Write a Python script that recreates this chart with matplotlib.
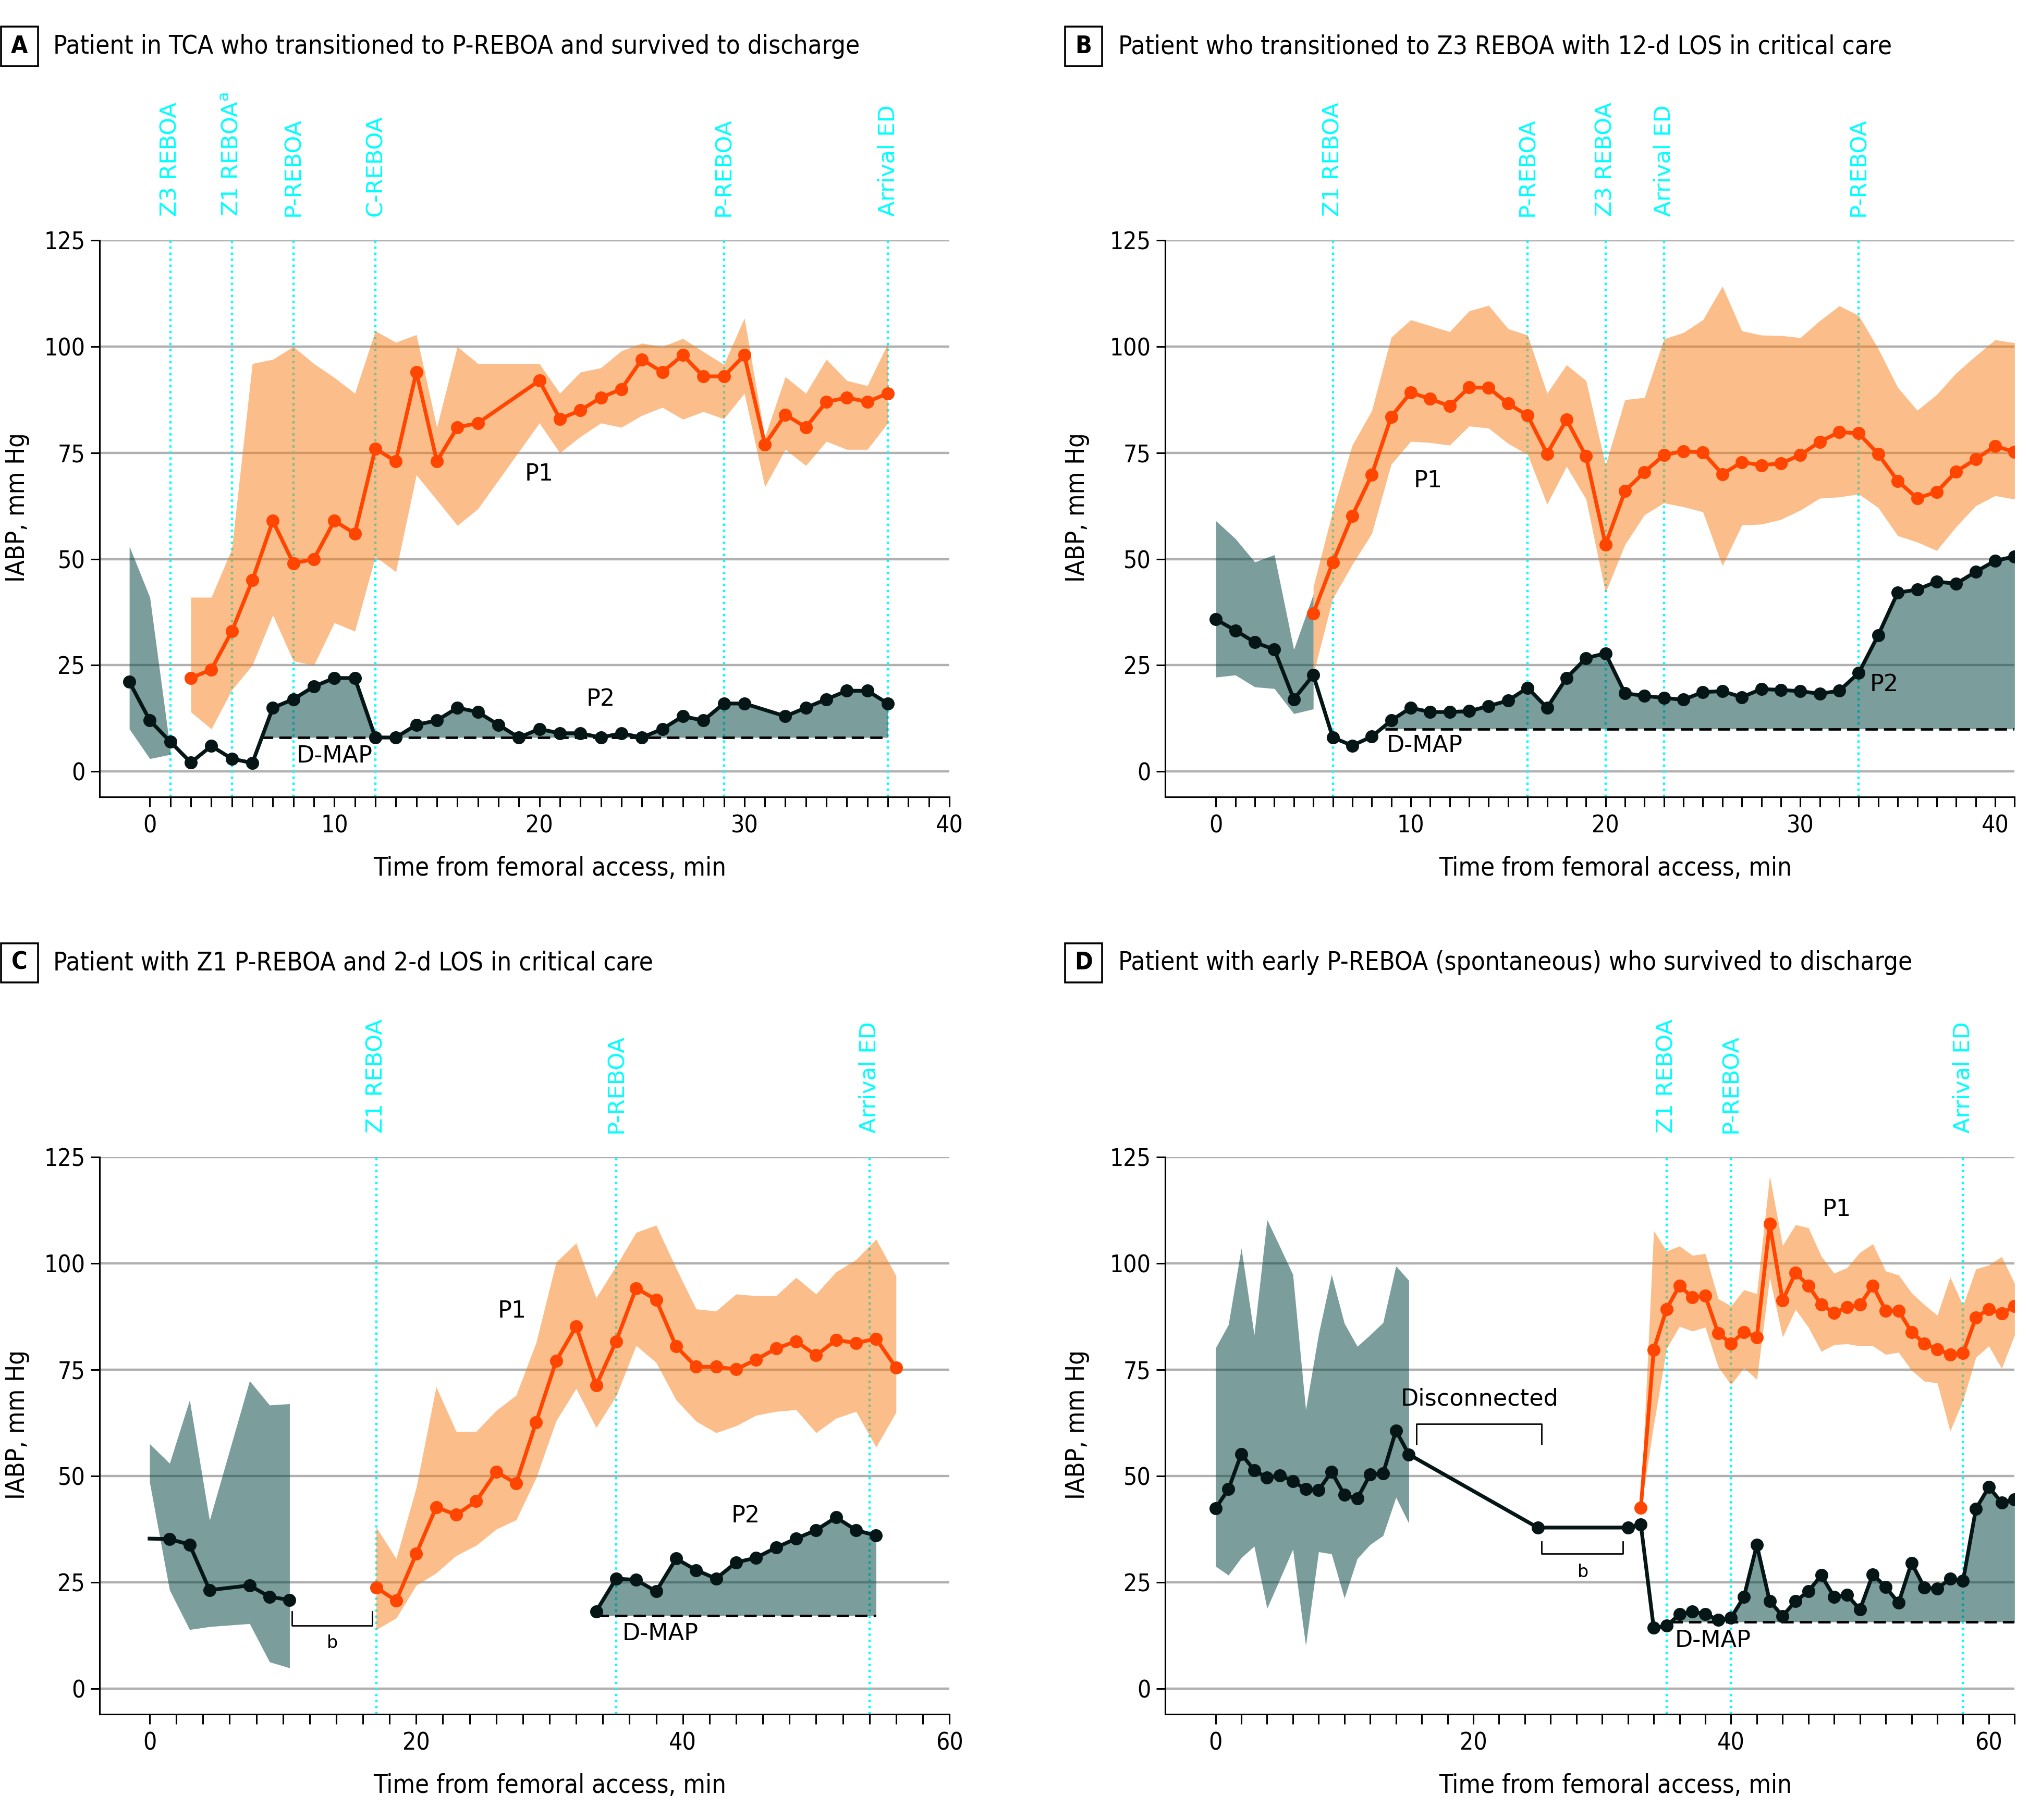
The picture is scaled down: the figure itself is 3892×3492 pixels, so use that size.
import os
import matplotlib
matplotlib.use('Agg')
import matplotlib.pyplot as plt
from matplotlib import font_manager as fm
from matplotlib.patches import Rectangle
import numpy as np

PLAIN = ['DejaVu Sans']

ORANGE = '#ff4500'
BAND_OR = '#f87d14'
TEAL = '#034644'
DARK = '#061616'
CYAN = '#00ffff'
GRID = '#b0b0b0'

# ---------------- Panel A ----------------
a_t2 = [0, 1, 2, 3, 4, 5, 6, 7, 8, 9, 10, 11, 12, 13, 14, 15, 16, 17, 18, 19, 20,
        21, 22, 23, 24, 25, 26, 27, 28, 29, 30, 32, 33, 34, 35, 36, 37]
a_p2 = [21.1, 12, 7, 2.1, 6, 3, 2, 15, 17, 20, 22, 22, 8, 8, 11, 12, 15, 14, 11, 8, 10,
        9, 9, 8, 9, 8, 10, 13, 12, 16, 16, 13, 15, 17, 19, 19, 16]
a_band2_t = [0, 1, 2]
a_band2_hi = [53, 41, 5]
a_band2_lo = [10, 3, 4]
a_t1 = [3, 4, 5, 6, 7, 8, 9, 10, 11, 12, 13, 14, 15, 16, 17, 20, 21, 22, 23, 24, 25,
        26, 27, 28, 29, 30, 31, 32, 33, 34, 35, 36, 37]
a_p1 = [22, 24, 33, 45, 59, 49, 50, 59, 56, 76, 73, 94, 73, 81, 82, 92, 83, 85, 88, 90, 97,
        94, 98, 93, 93, 98, 77, 84, 81, 87, 88, 87, 89]
a_p1_hi = [41, 41, 52.4, 96, 97, 100, 96, 92.7, 89, 103.7, 101, 102.8, 81, 100, 96, 96, 89,
           94, 95, 99, 100.8, 100, 101.9, 98.8, 95.8, 106.7, 78.7, 92.9, 89, 97, 92, 90.8, 100.7]
a_p1_lo = [14, 10, 19.2, 25, 36.8, 26, 25, 35, 33, 50.6, 47, 69.8, 63.9, 57.9, 61.8, 82, 75,
           78.8, 82, 81, 83.8, 85.7, 82.9, 84.7, 83, 89, 67, 75.8, 72, 77.7, 75.8, 75.8, 82]
a_dmap = (6.4, 37, 8)
a_events = [2, 5, 8, 12, 29, 37]
a_event_names = ['Z3 REBOA', r'Z1 REBOA$^\mathrm{a}$', 'P-REBOA', 'C-REBOA', 'P-REBOA', 'Arrival ED']

# ---------------- Panel B ----------------
b_t2 = list(range(0, 42))
b_p2 = [35.8, 33.2, 30.4, 28.7, 17, 22.7, 8, 6.1, 8.2, 12,
        15, 14, 14, 14.2, 15.4, 16.7, 19.7, 15, 22, 26.7,
        27.8, 18.4, 17.8, 17.3, 16.9, 18.7, 18.9, 17.5, 19.4, 19.2,
        18.9, 18.3, 19, 23.2, 32.1, 42.1, 42.8, 44.7, 44.2, 47,
        49.6, 50.6]
b_band2_t = [0, 1, 2, 3, 4, 5]
b_band2_hi = [59, 54.8, 49.3, 51, 28.7, 41.7]
b_band2_lo = [22.2, 22.7, 19.9, 19.5, 13.6, 14.7]
b_t1 = list(range(5, 42))
b_p1 = [37.2, 49.2, 60.2, 69.8, 83.5, 89.2, 87.7, 86, 90.4, 90.3, 86.6, 83.8, 74.8, 82.8,
        74.2, 53.4, 66, 70.5, 74.5, 75.4, 75.1, 70, 72.8, 72.1, 72.5, 74.5, 77.6, 79.9, 79.6,
        74.7, 68.4, 64.3, 65.8, 70.6, 73.5, 76.6, 75.2]
b_p1_hi = [43.5, 61.3, 76.8, 84.9, 102.2, 106.3, 104.9, 103.5, 108.4, 109.7, 104.2, 102.7,
           89, 95.7, 92, 72.1, 87.5, 88, 101.8, 103.3, 106.3, 114.2, 103.7, 102.7, 102.6,
           102.1, 106.1, 109.6, 107.3, 99.5, 90.4, 85, 88.7, 93.8, 97.8, 101.6, 100.9]
b_p1_lo = [22.9, 40.7, 48.7, 56, 72.3, 77.7, 77.4, 76.8, 81.3, 80.8, 77.2, 74.6, 62.9, 71.8,
           64.1, 42.1, 53.4, 60.4, 63.2, 62.3, 61.1, 48.4, 58, 58.2, 59.3, 61.5, 64.3, 64.6,
           65.3, 62.1, 55.5, 54, 52, 57.6, 62.5, 64.9, 64.1]
b_dmap = (8.7, 41, 10)
b_events = [6, 16, 20, 23, 33]
b_event_names = ['Z1 REBOA', 'P-REBOA', 'Z3 REBOA', 'Arrival ED', 'P-REBOA']

# ---------------- Panel C ----------------
c_t0 = [0, 1.5, 3, 4.5, 7.5, 9, 10.5]
c_p0 = [35.3, 35.2, 33.9, 23.2, 24.3, 21.6, 20.9]
c_band0_hi = [57.6, 53, 67.9, 39.6, 72.4, 66.7, 67]
c_band0_lo = [48.6, 23.2, 13.9, 14.6, 15.3, 6.3, 4.9]
c_t1 = [17 + 1.5 * i for i in range(27)]
c_p1 = [23.8, 20.7, 31.7, 42.7, 40.9, 44.1, 51, 48.3, 62.7, 77.1, 85.2, 71.3, 81.7, 94.2,
        91.5, 80.5, 75.7, 75.7, 75.1, 77.4, 80, 81.7, 78.4, 82, 81.3, 82.3, 75.5]
c_p1_hi = [38, 30.6, 47.2, 71, 60.5, 60.5, 65.4, 69, 81.4, 100.3, 104.8, 91.9, 99.4, 107.3,
           109, 98.9, 89.3, 88.8, 92.8, 92.4, 92.4, 96.7, 92.8, 98, 100.9, 105.7, 97.1]
c_p1_lo = [13.9, 16.6, 24.3, 27.2, 31.3, 33.7, 37.5, 39.7, 49.6, 63, 70.6, 61.4, 68.8, 80.7,
           76.7, 67.9, 62.9, 60.2, 61.8, 64.3, 65.2, 65.6, 60.2, 63.6, 65.2, 56.8, 65]
c_t2 = [33.5 + 1.5 * i for i in range(15)]
c_p2 = [18.2, 25.9, 25.6, 22.9, 30.6, 27.9, 25.9, 29.7, 30.8, 33.2, 35.3, 37.3, 40.3, 37.3, 36]
c_dmap = (33.5, 54.5, 17.2)
c_events = [17, 35, 54]
c_event_names = ['Z1 REBOA', 'P-REBOA', 'Arrival ED']

# ---------------- Panel D ----------------
d_t2 = list(range(0, 16)) + [25, 32, 33] + list(range(34, 63))
d_p2 = [42.4, 46.9, 55.2, 51.4, 49.6, 50.2, 48.8, 46.9, 46.7, 51, 45.6, 44.7, 50.4, 50.6,
        60.7, 55.1,
        37.9, 37.9, 38.6,
        14.3, 14.8, 17.5, 18.1, 17.6, 16.2, 16.7, 21.6, 33.8, 20.6, 17.1, 20.6, 22.9, 26.7,
        21.6, 22.1, 18.6, 26.9, 23.9, 20.2, 29.6, 23.8, 23.5, 25.9, 25.4, 42.3, 47.4, 43.8, 44.5]
d_band2_t = list(range(0, 16))
d_band2_hi = [80.1, 85.6, 103.6, 83.2, 110.3, 103.9, 97.4, 65.6, 83.4, 97.4, 85.9, 80.5,
              83.2, 86.1, 99.4, 96]
d_band2_lo = [28.8, 26.7, 30.8, 33.5, 18.9, 25.8, 32.8, 10.1, 32.2, 31.7, 21.3, 30.6,
              33.9, 36, 45, 38.9]
d_t1 = list(range(33, 63))
d_p1 = [42.6, 79.7, 89.3, 94.8, 92, 92.4, 83.6, 81.2, 83.9, 82.6, 109.3, 91.3, 97.8, 94.8,
        90.3, 88.4, 89.7, 90.3, 94.8, 88.9, 88.9, 83.9, 81.2, 79.8, 78.6, 78.9, 87.3, 89.3,
        88.2, 90]
d_p1_hi = [43.3, 107.7, 102.9, 104.1, 101.9, 102.3, 91.7, 90, 93.8, 92.9, 120.6, 104.2,
           109.1, 108.4, 101.7, 97.7, 99, 102.6, 104.6, 98.2, 97.3, 93.1, 90.3, 87.8, 96.8,
           90.1, 98.7, 99.6, 101.6, 95.3]
d_p1_lo = [42.3, 62, 80, 85.2, 84.1, 85, 75.7, 71.5, 75.5, 72.7, 96.7, 82.7, 89.2, 85, 79.3,
           80.9, 81.1, 80.6, 80.6, 78.6, 79.1, 74.9, 72.3, 71.9, 60.6, 67.8, 77.9, 80.6, 75.3,
           83.2]
d_dmap = (35.3, 62, 15.7)
d_events = [35, 40, 58]
d_event_names = ['Z1 REBOA', 'P-REBOA', 'Arrival ED']

yticks = [0, 25, 50, 75, 100, 125]

titles = ['Patient in TCA who transitioned to P-REBOA and survived to discharge',
          'Patient who transitioned to Z3 REBOA with 12-d LOS in critical care',
          'Patient with Z1 P-REBOA and 2-d LOS in critical care',
          'Patient with early P-REBOA (spontaneous) who survived to discharge']
letters = ['A', 'B', 'C', 'D']


# pick a narrow sans for titles / axes if one is installed, else Liberation Sans
def find_narrow(bold=False):
    for f in fm.fontManager.ttflist:
        tag = (f.name + ' ' + os.path.basename(f.fname)).lower()
        if 'mono' in tag or 'serif' in tag or f.style != 'normal':
            continue
        if bold:
            if f.weight not in (700, 'bold'):
                continue
        elif f.weight not in (400, 'normal', 'regular', 'book'):
            continue
        if 'narrow' in tag or ('condensed' in tag and not any(
                w in tag for w in ('semi', 'extra', 'ultra'))):
            return fm.FontProperties(fname=f.fname)
    return fm.FontProperties(family=['Liberation Sans', 'DejaVu Sans'],
                             weight='bold' if bold else 'normal')


BASE = find_narrow()
BASE_BOLD = find_narrow(bold=True)


def cond(size, bold=False):
    p = (BASE_BOLD if bold else BASE).copy()
    p.set_size(size)
    return p


W, H = 3892, 3492
fig = plt.figure(figsize=(W / 200, H / 200), dpi=200)
renderer = fig.canvas.get_renderer()


def fit_size(text, target_px, size0=19):
    probe = fig.text(0, 0, text, fontproperties=cond(size0))
    w = probe.get_window_extent(renderer).width
    probe.remove()
    return size0 * target_px / w


TITLE_SIZE = fit_size(titles[0], 1546)
LABEL_SIZE = fit_size('Time from femoral access, min', 675)
TICK_SIZE = LABEL_SIZE * 0.95

axA = fig.add_axes([0.0491, 0.5621, 0.4188, 0.3058])
axB = fig.add_axes([0.5743, 0.5621, 0.4186, 0.3058])
axC = fig.add_axes([0.0491, 0.0581, 0.4188, 0.3061])
axD = fig.add_axes([0.5743, 0.0581, 0.4186, 0.3061])


def setup(ax, xlim, ticks, labelled, ylab_x):
    ax.set_xlim(*xlim)
    ax.set_ylim(-6, 125)
    for s in ['top', 'right']:
        ax.spines[s].set_visible(False)
    for s in ['left', 'bottom']:
        ax.spines[s].set_linewidth(1.1)
    ax.set_yticks(yticks)
    ax.set_yticklabels([str(v) for v in yticks])
    ax.set_xticks(ticks)
    ax.set_xticklabels([labelled.get(t, '') for t in ticks])
    ax.tick_params(axis='x', direction='out', length=7, width=1.1, pad=5)
    ax.tick_params(axis='y', direction='out', length=6, width=1.1, pad=4)
    for lab in ax.get_xticklabels() + ax.get_yticklabels():
        lab.set_fontproperties(cond(TICK_SIZE))
    ax.grid(axis='y', color=GRID, lw=1.6)
    ax.set_axisbelow(True)
    ax.set_ylabel('IABP, mm Hg', fontproperties=cond(LABEL_SIZE))
    ax.yaxis.set_label_coords(ylab_x, 0.52)
    ax.yaxis.label.set_va('center')
    ax.set_xlabel('Time from femoral access, min', fontproperties=cond(LABEL_SIZE))
    ax.xaxis.set_label_coords(0.53, -0.128)
    ax.xaxis.label.set_va('center')


def events(ax, times, names):
    for t, n in zip(times, names):
        ax.axvline(t, color=CYAN, lw=1.6, ls=(0, (1, 1.6)), zorder=1)
        ax.text(t, 1.043, n, transform=ax.get_xaxis_transform(), rotation=90,
                ha='center', va='bottom', color=CYAN, fontsize=15.5, family=PLAIN)


def band(ax, t, lo, hi, color, alpha):
    ax.fill_between(t, lo, hi, color=color, alpha=alpha, lw=0, zorder=2)


def series(ax, t, v, color, **kw):
    ax.plot(t, v, '-o', color=color, lw=2.6, ms=8, zorder=5, **kw)


def dmap_fill(ax, t, v, dmap, label_xy):
    start, end, level = dmap
    t = np.asarray(t, float)
    v = np.asarray(v, float)
    ax.fill_between(t, v, level, where=(v >= level) & (t >= start - 1) & (t <= end),
                    interpolate=True, color=TEAL, alpha=0.52, lw=0, zorder=2)
    ax.plot([start, end], [level, level], color='black', lw=1.7, ls=(0, (5, 2.5)), zorder=3)
    ax.text(label_xy[0], label_xy[1], 'D-MAP', ha='center', va='center',
            fontsize=16, family=PLAIN, zorder=6)


def note(ax, x, y, s, size=16, **kw):
    ax.text(x, y, s, ha='center', va='center', fontsize=size, family=PLAIN, zorder=6, **kw)


def bracket(ax, x0, x1, ybar, yend):
    ax.plot([x0, x0, x1, x1], [yend, ybar, ybar, yend], color='black', lw=1.0, zorder=6)


# Panel A
setup(axA, (-1.45, 40), list(range(1, 41)), {1: '0', 10: '10', 20: '20', 30: '30', 40: '40'}, -0.097)
events(axA, a_events, a_event_names)
band(axA, a_band2_t, a_band2_lo, a_band2_hi, TEAL, 0.52)
band(axA, a_t1, a_p1_lo, a_p1_hi, BAND_OR, 0.5)
dmap_fill(axA, a_t2, a_p2, a_dmap, (10, 3.6))
series(axA, a_t1, a_p1, ORANGE)
series(axA, a_t2, a_p2, DARK)
note(axA, 20, 70, 'P1')
note(axA, 23, 17, 'P2')

# Panel B
setup(axB, (-2.6, 41), list(range(0, 42)), {0: '0', 10: '10', 20: '20', 30: '30', 40: '40'}, -0.104)
events(axB, b_events, b_event_names)
band(axB, b_band2_t, b_band2_lo, b_band2_hi, TEAL, 0.52)
band(axB, b_t1, b_p1_lo, b_p1_hi, BAND_OR, 0.5)
dmap_fill(axB, b_t2, b_p2, b_dmap, (10.7, 6.1))
series(axB, b_t1, b_p1, ORANGE)
series(axB, b_t2, b_p2, DARK)
note(axB, 10.9, 68.4, 'P1')
note(axB, 34.3, 20.4, 'P2')

# Panel C
setup(axC, (-3.75, 60), list(range(0, 61, 2)), {0: '0', 20: '20', 40: '40', 60: '60'}, -0.097)
events(axC, c_events, c_event_names)
band(axC, c_t0, c_band0_lo, c_band0_hi, TEAL, 0.52)
band(axC, c_t1, c_p1_lo, c_p1_hi, BAND_OR, 0.5)
dmap_fill(axC, c_t2, c_p2, c_dmap, (38.3, 12.9))
series(axC, c_t0, c_p0, DARK, markevery=slice(1, None))
series(axC, c_t1, c_p1, ORANGE)
series(axC, c_t2, c_p2, DARK)
note(axC, 27.2, 88.8, 'P1')
note(axC, 44.7, 40.7, 'P2')
bracket(axC, 10.67, 16.7, 14.8, 18.2)
note(axC, 13.7, 10.8, 'b', size=12)

# Panel D
setup(axD, (-3.9, 62), list(range(0, 63, 2)), {0: '0', 20: '20', 40: '40', 60: '60'}, -0.104)
events(axD, d_events, d_event_names)
band(axD, d_band2_t, d_band2_lo, d_band2_hi, TEAL, 0.52)
band(axD, d_t1, d_p1_lo, d_p1_hi, BAND_OR, 0.5)
d_t2_post = [t for t in d_t2 if t >= 34]
d_p2_post = d_p2[len(d_t2) - len(d_t2_post):]
dmap_fill(axD, d_t2_post, d_p2_post, d_dmap, (38.6, 11.4))
series(axD, d_t1, d_p1, ORANGE)
series(axD, d_t2, d_p2, DARK)
note(axD, 48.2, 112.7, 'P1')
note(axD, 20.5, 68.1, 'Disconnected')
bracket(axD, 15.6, 25.3, 62.3, 57.5)
bracket(axD, 25.3, 31.6, 31.7, 34.6)
note(axD, 28.5, 27.4, 'b', size=12)

# Panel headers
header_rows = [89, 89, 1847, 1847]
box_left = [2, 2043, 2, 2043]
text_left = [102, 2145, 102, 2145]
for i in range(4):
    yc = 1 - header_rows[i] / H
    fig.add_artist(Rectangle((box_left[i] / W, yc - 37.5 / H), 71 / W, 75 / H,
                             transform=fig.transFigure, fill=False, lw=1.3, ec='black'))
    fig.text((box_left[i] + 35.5) / W, yc, letters[i], ha='center', va='center',
             fontproperties=cond(TITLE_SIZE * 0.95, bold=True))
    fig.text(text_left[i] / W, yc, titles[i], ha='left', va='center',
             fontproperties=cond(TITLE_SIZE))

fig.savefig('out.png', dpi=200)
